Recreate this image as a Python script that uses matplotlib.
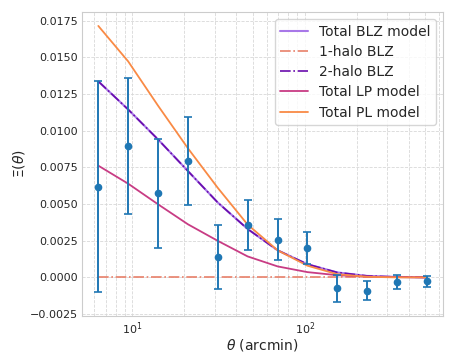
import numpy as np
import matplotlib
matplotlib.use("Agg")
import matplotlib.pyplot as plt
import seaborn as sns

sns.set_style("whitegrid")

theta = [6.34, 9.45, 14.1, 21.0, 31.3, 46.6, 69.5, 103.5, 154.0, 230.0, 342.0, 510.0]
xi_data = [0.00619, 0.00895, 0.00573, 0.00793, 0.0014, 0.0036, 0.00256, 0.00201, -0.00075, -0.00091, -0.00032, -0.00026]
xi_err = [0.0072, 0.00465, 0.0037, 0.003, 0.0022, 0.0017, 0.0014, 0.0011, 0.0009, 0.00065, 0.0005, 0.00038]

blz_1halo = [0.0] * 12
blz_2halo = [0.01337, 0.01145, 0.0094, 0.00725, 0.0051, 0.0033, 0.00185, 0.0009, 0.00034, 0.0001, 0.00003, 0.0]
blz_total = [a + b for a, b in zip(blz_1halo, blz_2halo)]
lp_total = [0.00762, 0.00639, 0.00498, 0.00362, 0.00249, 0.00143, 0.00075, 0.00036, 0.00015, 0.00005, 0.00002, 0.0]
pl_total = [0.01715, 0.01473, 0.0117, 0.0088, 0.0061, 0.0036, 0.00185, 0.0008, 0.00022, 0.00004, 0.0, 0.0]

fig = plt.figure(figsize=(4.55, 3.64), dpi=100)
ax = fig.add_axes([0.18, 0.132, 0.794, 0.835])

ax.errorbar(theta, xi_data, yerr=xi_err, fmt='o', color='#1f77b4', ms=4.5, capsize=3, elinewidth=1.4, capthick=1.2, zorder=3)
ax.plot(theta, blz_total, color='#a878e8', lw=1.5, label='Total BLZ model')
ax.plot(theta, blz_1halo, color='#e8806a', lw=1.2, ls='-.', label='1-halo BLZ')
ax.plot(theta, blz_2halo, color='#6a0dad', lw=1.2, ls='-.', label='2-halo BLZ')
ax.plot(theta, lp_total, color='#c83c84', lw=1.3, label='Total LP model')
ax.plot(theta, pl_total, color='#f98a45', lw=1.3, label='Total PL model')

ax.set_xscale('log')
ax.set_ylim(-0.00263, 0.0181)
ax.grid(True, which='both', ls='--', lw=0.6, color='#d8d8d8')
ax.tick_params(labelsize=8, which='both', length=0, pad=3)
ax.set_xlabel(r'$\theta$ (arcmin)', fontsize=10, labelpad=0)
ax.set_ylabel(r'$\Xi(\theta)$', fontsize=10, labelpad=2)
ax.legend(fontsize=10, loc='upper right', handlelength=2.0, labelspacing=0.45, borderaxespad=0.5)

fig.savefig('out.png', dpi=100)
